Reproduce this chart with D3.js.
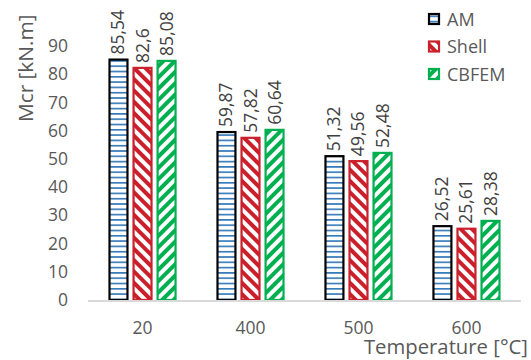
<!DOCTYPE html>
<html>
<head>
<meta charset="utf-8">
<script src="https://cdn.jsdelivr.net/npm/d3@7"></script>
<style>
  html, body { margin: 0; padding: 0; background: #fff; }
  svg { display: block; font-family: "Open Sans", Lato, sans-serif; }
</style>
</head>
<body>
<svg id="chart" width="531" height="360"></svg>
<script>
// Critical moment per temperature and method
const categories = ["20", "400", "500", "600"];
const series = ["AM", "Shell", "CBFEM"];
const amValues = [85.54, 59.87, 51.32, 26.52];
const shellValues = [82.6, 57.82, 49.56, 25.61];
const cbfemValues = [85.08, 60.64, 52.48, 28.38];
const valueLabels = [
  ["85,54", "59,87", "51,32", "26,52"],
  ["82,6", "57,82", "49,56", "25,61"],
  ["85,08", "60,64", "52,48", "28,38"]
];
const yTicks = [0, 10, 20, 30, 40, 50, 60, 70, 80, 90];

const seriesValues = [amValues, shellValues, cbfemValues];
const svg = d3.select("#chart");
const plot = { left: 88, right: 521, top: 46, bottom: 300 };

// Fill patterns: horizontal blue lines, backslash red hatching, slash green hatching
const defs = svg.append("defs");
const pAM = defs.append("pattern").attr("id", "pat-am")
  .attr("patternUnits", "userSpaceOnUse").attr("width", 10).attr("height", 5.3);
pAM.append("rect").attr("width", 10).attr("height", 5.3).attr("fill", "#fff");
pAM.append("line").attr("x1", 0).attr("x2", 10).attr("y1", 2.6).attr("y2", 2.6)
  .attr("stroke", "#2E75B6").attr("stroke-width", 1.6);

function hatch(id, color, angle) {
  const p = defs.append("pattern").attr("id", id)
    .attr("patternUnits", "userSpaceOnUse").attr("width", 8).attr("height", 8)
    .attr("patternTransform", `rotate(${angle})`);
  p.append("rect").attr("width", 8).attr("height", 8).attr("fill", "#fff");
  p.append("line").attr("x1", 0).attr("x2", 0).attr("y1", 0).attr("y2", 8)
    .attr("stroke", color).attr("stroke-width", 8);
}
hatch("pat-shell", "#C9202B", -45);
hatch("pat-cbfem", "#00B050", 45);

const fills = ["url(#pat-am)", "url(#pat-shell)", "url(#pat-cbfem)"];
const strokes = ["#000000", "#C9202B", "#00B050"];

const x0 = d3.scaleBand().domain(categories).range([plot.left, plot.right])
  .paddingInner(0.37).paddingOuter(0.19);
const x1 = d3.scaleBand().domain(series).range([0, x0.bandwidth()]).paddingInner(0.17);
const y = d3.scaleLinear().domain([0, 90]).range([plot.bottom, plot.top]);

// Y axis labels (no axis line)
const yAxis = svg.append("g").attr("transform", `translate(${plot.left - 20},0)`)
  .call(d3.axisLeft(y).tickValues(yTicks).tickSize(0).tickPadding(0).tickFormat(d3.format("d")));
yAxis.select(".domain").remove();
yAxis.selectAll("text").attr("fill", "#595959").attr("font-size", 17.5)
  .attr("font-family", "'Open Sans', sans-serif");

// Bars
const groups = svg.append("g").selectAll("g").data(categories).join("g")
  .attr("transform", d => `translate(${x0(d)},0)`);

groups.each(function(cat, ci) {
  const g = d3.select(this);
  series.forEach((s, si) => {
    const v = seriesValues[si][ci];
    const bx = x1(s), bw = x1.bandwidth();
    g.append("rect")
      .attr("x", bx + 1).attr("y", y(v) + 1)
      .attr("width", bw - 2).attr("height", y(0) - y(v) - 1)
      .attr("fill", fills[si]).attr("stroke", strokes[si]).attr("stroke-width", 2.2);
    g.append("text")
      .attr("transform", `translate(${bx + bw / 2 + 6},${y(v) - 4}) rotate(-90)`)
      .attr("fill", "#404040").attr("font-size", 17.5)
      .text(valueLabels[si][ci]);
  });
});

// X axis line
svg.append("line").attr("x1", plot.left).attr("x2", plot.right)
  .attr("y1", plot.bottom + 1).attr("y2", plot.bottom + 1)
  .attr("stroke", "#D9D9D9").attr("stroke-width", 2);

const xAxis = svg.append("g").attr("transform", "translate(0,334)")
  .call(d3.axisBottom(x0).tickSize(0));
xAxis.select(".domain").remove();
xAxis.selectAll("text").attr("y", 0).attr("dy", 0)
  .attr("fill", "#595959").attr("font-size", 17.5)
  .attr("font-family", "'Open Sans', sans-serif");

// Axis titles
svg.append("text").attr("x", 528).attr("y", 354).attr("text-anchor", "end")
  .attr("fill", "#595959").attr("font-size", 20.3).text("Temperature [°C]");
svg.append("text").attr("transform", "translate(33,122) rotate(-90)")
  .attr("fill", "#595959").attr("font-size", 20.8).text("Mcr [kN.m]");

// Legend
const legend = svg.append("g").selectAll("g").data(series).join("g")
  .attr("transform", (d, i) => `translate(428,${19 + i * 27.5})`);
legend.append("rect").attr("x", 1).attr("y", -5).attr("width", 10).attr("height", 10)
  .attr("fill", (d, i) => fills[i]).attr("stroke", (d, i) => strokes[i]).attr("stroke-width", 2.2);
legend.append("text").attr("x", 19).attr("y", 6.5).attr("fill", "#595959")
  .attr("font-size", 18).text(d => d);
</script>
</body>
</html>
